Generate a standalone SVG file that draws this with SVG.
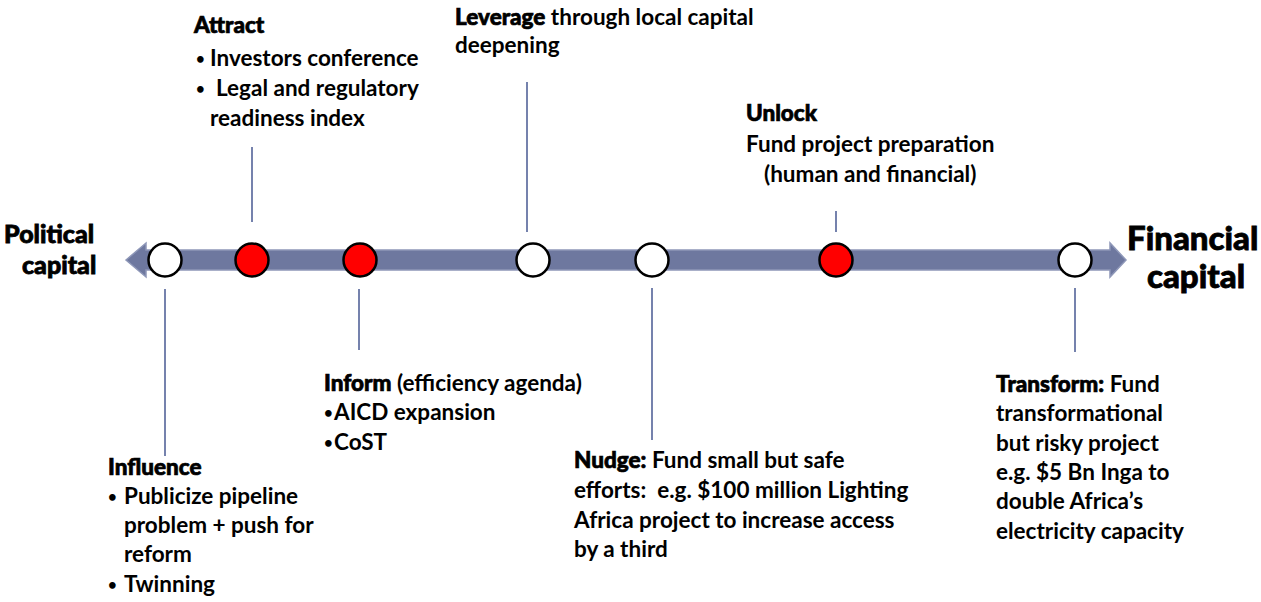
<svg xmlns="http://www.w3.org/2000/svg" width="1261" height="602" viewBox="0 0 1261 602">
<style>
text{font-family:Lato,"Liberation Sans",sans-serif;fill:#000;font-size:22.5px;}
.b{font-weight:bold;}
.t{font-weight:900;stroke:#000;stroke-width:0.7;}
.bu{font-size:15px;}
.end{font-weight:900;font-size:25px;stroke:#000;stroke-width:0.8;}
.endr{font-weight:900;font-size:33px;stroke:#000;stroke-width:0.8;}
.conn line{stroke:#7582ad;stroke-width:2;}
.w{fill:#fff;stroke:#000;stroke-width:2.5;}
.r{fill:#f00;stroke:#000;stroke-width:2.5;}
</style>
<rect width="1261" height="602" fill="#fff"/>
<g id="axis">
<path d="M126,260 L146,243 L146,250 L1110,250 L1110,243 L1126,260 L1110,277 L1110,270 L146,270 L146,277 Z" fill="#6e789f" stroke="#8e97b8" stroke-width="1.5"/>
<text class="end" x="4" y="243">Political</text>
<text class="end" x="22" y="274">capital</text>
<text class="endr" x="1127" y="250">Financial</text>
<text class="endr" x="1147" y="288">capital</text>
</g>
<g class="conn" id="connectors">
<line x1="165" y1="289" x2="165" y2="456"/>
<line x1="252" y1="147" x2="252" y2="222"/>
<line x1="359" y1="289" x2="359" y2="350"/>
<line x1="527" y1="82" x2="527" y2="232"/>
<line x1="652" y1="288" x2="652" y2="440"/>
<line x1="836" y1="211" x2="836" y2="232"/>
<line x1="1075" y1="288" x2="1075" y2="352"/>
</g>
<g id="influence">
<circle class="w" cx="165" cy="260" r="16.5"/>
<text class="t" x="108" y="475">Influence</text>
<text class="b" x="108" y="504"><tspan class="bu" dy="-2">•</tspan><tspan x="124" dy="2">Publicize pipeline</tspan></text>
<text class="b" x="124" y="533">problem + push for</text>
<text class="b" x="124" y="562">reform</text>
<text class="b" x="108" y="592"><tspan class="bu" dy="-2">•</tspan><tspan x="124" dy="2">Twinning</tspan></text>
</g>
<g id="attract">
<circle class="r" cx="252" cy="260" r="16.5"/>
<text class="t" x="194" y="33">Attract</text>
<text class="b" x="196" y="66"><tspan class="bu" dy="-2">•</tspan><tspan x="210" dy="2">Investors conference</tspan></text>
<text class="b" x="196" y="96"><tspan class="bu" dy="-2">•</tspan><tspan x="216" dy="2">Legal and regulatory</tspan></text>
<text class="b" x="210" y="126">readiness index</text>
</g>
<g id="inform">
<circle class="r" cx="360" cy="260" r="16.5"/>
<text class="b" x="324" y="391"><tspan class="t">Inform</tspan> (efficiency agenda)</text>
<text class="b" x="324" y="420"><tspan class="bu" dy="-2">•</tspan><tspan x="334" dy="2">AICD expansion</tspan></text>
<text class="b" x="324" y="450"><tspan class="bu" dy="-2">•</tspan><tspan x="334" dy="2">CoST</tspan></text>
</g>
<g id="leverage">
<circle class="w" cx="533" cy="260" r="16.5"/>
<text class="b" x="455" y="25"><tspan class="t">Leverage</tspan> through local capital</text>
<text class="b" x="455" y="53">deepening</text>
</g>
<g id="nudge">
<circle class="w" cx="652" cy="260" r="16.5"/>
<text class="b" x="574" y="468"><tspan class="t">Nudge:</tspan> Fund small but safe</text>
<text class="b" x="574" y="498" xml:space="preserve">efforts:  e.g. $100 million Lighting</text>
<text class="b" x="574" y="528">Africa project to increase access</text>
<text class="b" x="574" y="557">by a third</text>
</g>
<g id="unlock">
<circle class="r" cx="836" cy="260" r="16.5"/>
<text class="t" x="746" y="121">Unlock</text>
<text class="b" x="746" y="152">Fund project preparation</text>
<text class="b" x="764" y="182">(human and financial)</text>
</g>
<g id="transform">
<circle class="w" cx="1075" cy="260" r="16.5"/>
<text class="b" x="996" y="392"><tspan class="t">Transform:</tspan> Fund</text>
<text class="b" x="996" y="421">transformational</text>
<text class="b" x="996" y="451">but risky project</text>
<text class="b" x="996" y="480">e.g. $5 Bn Inga to</text>
<text class="b" x="996" y="509">double Africa’s</text>
<text class="b" x="996" y="539">electricity capacity</text>
</g>
</svg>
